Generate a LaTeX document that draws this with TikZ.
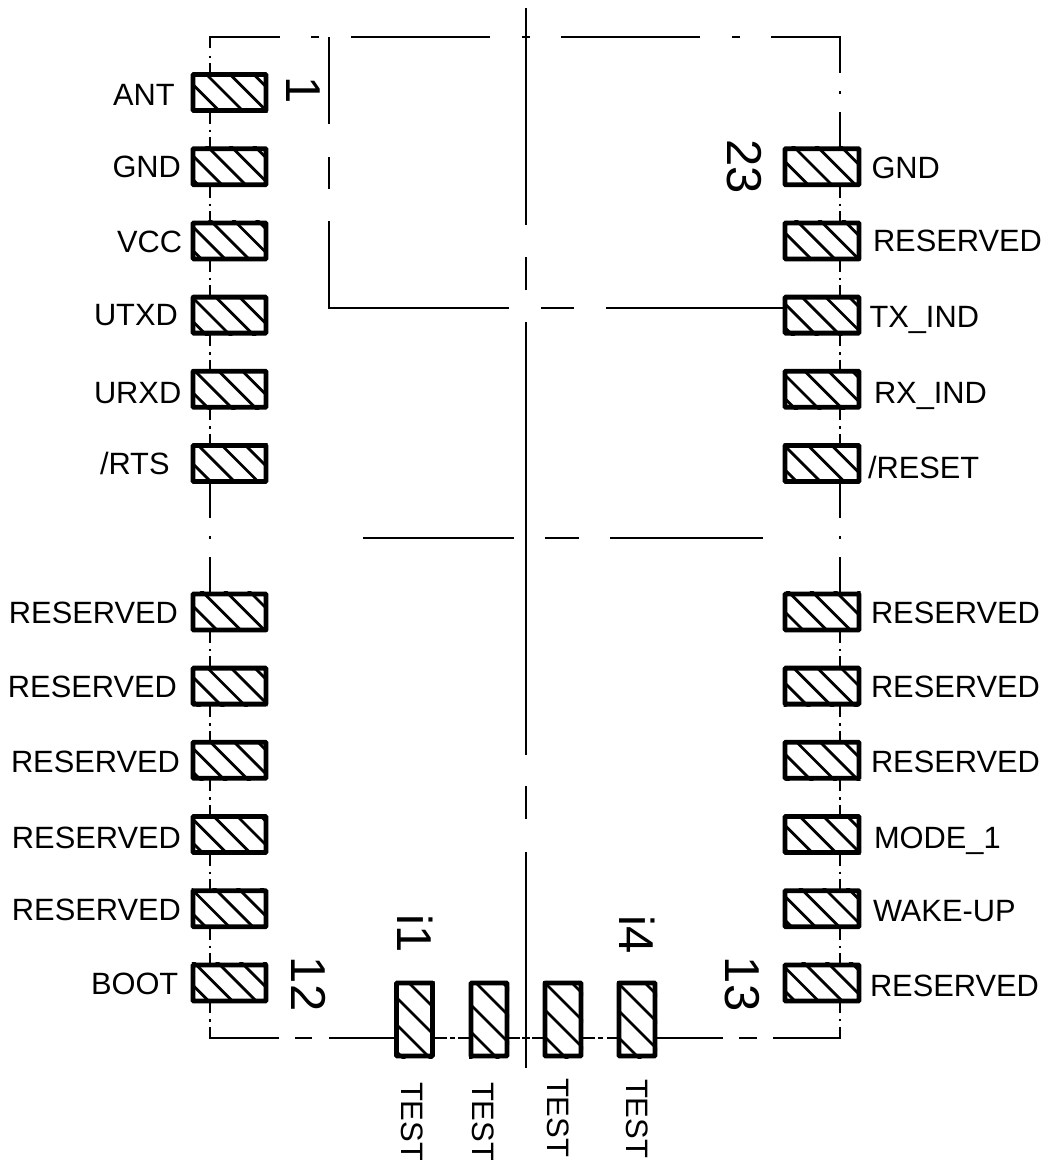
\documentclass[tikz,border=0pt]{standalone}
\usepackage{fontspec}
\setmainfont{Liberation Sans}
\tikzset{
  padbox/.style={draw=black,line width=4.8pt,fill=none,rectangle,rounded corners=0.8pt,inner sep=0pt,outer sep=0pt},
  hpad/.style={padbox,minimum width=73pt,minimum height=36pt},
  rpad/.style={padbox,minimum width=74pt,minimum height=36pt},
  vpad/.style={padbox,minimum width=36pt,minimum height=73pt},
  hatchline/.style={line width=2.8pt,black},
  thinline/.style={line width=2pt,black},
  lab/.style={inner sep=0pt,outer sep=0pt,anchor=base west,font=\fontsize{30.8}{32}\selectfont},
  testlab/.style={inner sep=0pt,outer sep=0pt,rotate=-90,anchor=west,font=\fontsize{31}{32}\selectfont},
  numlab/.style={inner sep=0pt,outer sep=0pt,rotate=-90,font=\fontsize{49}{52}\selectfont}
}
% name, centre x, centre y, hatch constant c, hatch pitch s, half w, half h, style
\newcommand{\hatchpad}[8]{%
  \begin{scope}
    \clip (#2-#6,#3-#7) rectangle (#2+#6,#3+#7);
    \pgfmathsetmacro{\kz}{round((#2-#3-#4)/#5)}
    \foreach \dk in {-5,...,5}{
      \pgfmathsetmacro{\xa}{#4+(\kz+\dk)*#5+(#3-50)}
      \pgfmathsetmacro{\xb}{#4+(\kz+\dk)*#5+(#3+50)}
      \draw[hatchline] (\xa,#3-50) -- (\xb,#3+50);
    }
  \end{scope}
  \node[#8] (#1) at (#2,#3) {};
}
\begin{document}
\begin{tikzpicture}[x=1pt,y=-1pt]
\useasboundingbox (0,0) rectangle (1047,1160);
\clip (0,0) rectangle (1047,1160);
% side pads and the broken outline between them
\foreach \n/\r in {a/0,b/1,c/2,d/3,e/4,f/5,g/7,h/8,i/9,j/10,k/11,l/12}{
  \pgfmathsetmacro{\yy}{92.5+\r*74.2}
  \hatchpad{L\n}{229.5}{\yy}{132}{23.7}{38}{20}{hpad}
  \ifnum\r=0\else
    \hatchpad{R\n}{822}{\yy}{647}{23.7}{38.5}{20}{rpad}
  \fi
  \pgfmathsetmacro{\yb}{\yy+20}
  \pgfmathsetmacro{\yc}{\yy+31}
  \pgfmathsetmacro{\yd}{\yy+37}
  \pgfmathsetmacro{\ye}{\yy+39.5}
  \pgfmathsetmacro{\yf}{\yy+44.5}
  \pgfmathsetmacro{\yg}{\yy+54.2}
  \ifnum\r=5\else\ifnum\r=12\else
    \draw[thinline] (210,\yb) -- (210,\yc) (210,\yd) -- (210,\ye) (210,\yf) -- (210,\yg);
    \ifnum\r=0\else
      \draw[thinline] (840,\yb) -- (840,\yc) (840,\yd) -- (840,\ye) (840,\yf) -- (840,\yg);
    \fi
  \fi\fi
}
% bottom pads
\hatchpad{Ba}{414.5}{1019.5}{-574}{27}{20}{38.5}{vpad}
\hatchpad{Bb}{489}{1019.5}{-507}{27}{20}{38.5}{vpad}
\hatchpad{Bc}{563}{1019.5}{-438}{27}{20}{38.5}{vpad}
\hatchpad{Bd}{637}{1019.5}{-365}{27}{20}{38.5}{vpad}
% outline: top
\draw[thinline] (210,72) -- (210,63) (210,55.5) -- (210,58);
\draw[thinline] (210,48) -- (210,37) -- (280,37);
\draw[thinline] (311,37) -- (319,37) (351,37) -- (490,37) (522,37) -- (530,37) (561,37) -- (700,37) (732,37) -- (740,37);
\draw[thinline] (771,37) -- (840,37) -- (840,73) (840,91) -- (840,93.5) (840,112) -- (840,147);
% outline: gap at mid height
\draw[thinline] (210,483) -- (210,518) (210,536) -- (210,538.5) (210,557) -- (210,592);
\draw[thinline] (840,483) -- (840,518) (840,536) -- (840,538.5) (840,557) -- (840,592);
\draw[thinline] (363,537.5) -- (514,537.5) (545,537.5) -- (579,537.5) (610,537.5) -- (763,537.5);
% outline: bottom
\draw[thinline] (210,1002) -- (210,1013) (210,1019) -- (210,1021.5) (210,1027) -- (210,1038) -- (279,1038);
\draw[thinline] (295,1038) -- (312,1038) (329,1038) -- (394,1038);
\draw[thinline] (435,1038) -- (447,1038) (450,1038) -- (455,1038) (458,1038) -- (469,1038);
\draw[thinline] (509,1038) -- (520,1038) (522,1038) -- (530,1038) (532,1038) -- (543,1038);
\draw[thinline] (583,1038) -- (595,1038) (598,1038) -- (603,1038) (607,1038) -- (617,1038);
\draw[thinline] (657,1038) -- (723,1038) (739,1038) -- (757,1038) (773,1038) -- (840,1038) -- (840,1027) (840,1021) -- (840,1018.5) (840,1013) -- (840,1002);
% inner step line
\draw[thinline] (329,37) -- (329,124) (329,157) -- (329,189);
\draw[thinline] (329,221) -- (329,307.5) -- (509,307.5) (541,307.5) -- (574,307.5) (606,307.5) -- (783,307.5);
% centre line
\draw[thinline] (526,8) -- (526,225) (526,257) -- (526,290) (526,322) -- (526,755) (526,786) -- (526,819) (526,852) -- (526,1068);
% left labels
\node[lab] (tLa) at (113,105) {ANT};
\node[lab] (tLb) at (112.5,177.5) {GND};
\node[lab] (tLc) at (117,252) {VCC};
\node[lab] (tLd) at (94,325) {UTXD};
\node[lab] (tLe) at (94,403) {URXD};
\node[lab] (tLf) at (100,474) {/RTS};
\node[lab] (tLg) at (9,623) {RESERVED};
\node[lab] (tLh) at (8,697) {RESERVED};
\node[lab] (tLi) at (11,772) {RESERVED};
\node[lab] (tLj) at (12,848) {RESERVED};
\node[lab] (tLk) at (12,920) {RESERVED};
\node[lab] (tLl) at (91,994) {BOOT};
% right labels
\node[lab] (tRa) at (871.5,178) {GND};
\node[lab] (tRb) at (873,251) {RESERVED};
\node[lab] (tRc) at (869.5,327) {TX\_IND};
\node[lab] (tRd) at (874,403) {RX\_IND};
\node[lab] (tRe) at (868,478) {/RESET};
\node[lab] (tRg) at (871,623) {RESERVED};
\node[lab] (tRh) at (871,697) {RESERVED};
\node[lab] (tRi) at (871,772) {RESERVED};
\node[lab] (tRj) at (874,848) {MODE\_1};
\node[lab] (tRk) at (873,921) {WAKE-UP};
\node[lab] (tRl) at (870,996) {RESERVED};
% pin numbers
\node[numlab] (n1) at (303,90) {1};
\node[numlab] (n23) at (744,167) {23};
\node[numlab] (n12) at (309,984) {12};
\node[numlab] (n13) at (742,984) {13};
\node[numlab] (ni1) at (415,934) {i1};
\node[numlab] (ni4) at (637,935) {i4};
% test labels
\node[testlab] (t1) at (412,1082) {TEST};
\node[testlab] (t2) at (483,1082) {TEST};
\node[testlab] (t3) at (558,1078) {TEST};
\node[testlab] (t4) at (637,1079) {TEST};
\end{tikzpicture}
\end{document}
